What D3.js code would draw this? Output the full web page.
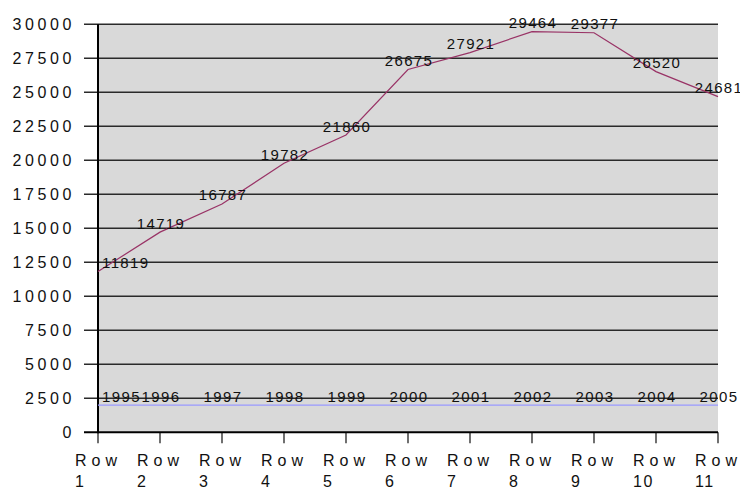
<!DOCTYPE html>
<html><head><meta charset="utf-8">
<script src="https://cdn.jsdelivr.net/npm/d3@7"></script>
<style>body{margin:0;background:#fff;} svg{display:block;font-family:"Liberation Sans",Arial,sans-serif;}</style>
</head><body>
<svg id="c" width="740" height="490"></svg>
<script>
const categories = ["Row 1","Row 2","Row 3","Row 4","Row 5","Row 6","Row 7","Row 8","Row 9","Row 10","Row 11"];
const seriesYears = [1995,1996,1997,1998,1999,2000,2001,2002,2003,2004,2005];
const seriesValues = [11819,14719,16787,19782,21860,26675,27921,29464,29377,26520,24681];
const yTicks = [0,2500,5000,7500,10000,12500,15000,17500,20000,22500,25000,27500,30000];

const svg = d3.select("#c");
const L = 98, R = 718, T = 24.3, B = 432.3;
const x = d3.scalePoint().domain(categories).range([L, R]);
const y = d3.scaleLinear().domain([0, 30000]).range([B, T]);

svg.append("rect").attr("x", L).attr("y", T).attr("width", R - L).attr("height", B - T).attr("fill", "#d9d9d9");

// gridlines + left ticks
svg.append("g").selectAll("line").data(yTicks.filter(d => d > 0)).join("line")
  .attr("x1", L - 14).attr("x2", R).attr("y1", d => y(d)).attr("y2", d => y(d))
  .attr("stroke", "#2a2a2a").attr("stroke-width", 1.4);

// y tick labels
svg.append("g").selectAll("text").data(yTicks).join("text")
  .attr("x", 75).attr("y", d => y(d) + 6)
  .attr("text-anchor", "end").attr("font-size", 16).attr("letter-spacing", 3.6)
  .attr("fill", "#111").text(d => d);

// bottom ticks
svg.append("g").selectAll("line").data(categories).join("line")
  .attr("x1", d => x(d)).attr("x2", d => x(d)).attr("y1", B).attr("y2", B + 11)
  .attr("stroke", "#222").attr("stroke-width", 1.3);

// axes
svg.append("line").attr("x1", L).attr("x2", L).attr("y1", T).attr("y2", B + 1)
  .attr("stroke", "#000").attr("stroke-width", 2);
svg.append("line").attr("x1", L - 14).attr("x2", R).attr("y1", B).attr("y2", B)
  .attr("stroke", "#000").attr("stroke-width", 2);

// category labels (wrapped)
const cl = svg.append("g").selectAll("text").data(categories).join("text")
  .attr("font-size", 16).attr("fill", "#111");
cl.append("tspan").attr("x", d => x(d) - 23).attr("y", 466).attr("letter-spacing", 5).text(d => d.split(" ")[0]);
cl.append("tspan").attr("x", d => x(d) - 23).attr("y", 487).attr("letter-spacing", 1.5).text(d => d.split(" ")[1]);

// lines
const line1 = d3.line().x((d, i) => x(categories[i])).y(d => y(d));
svg.append("path").attr("d", line1(seriesYears)).attr("fill", "none")
  .attr("stroke", "#9999ff").attr("stroke-width", 1.2);
svg.append("path").attr("d", line1(seriesValues)).attr("fill", "none")
  .attr("stroke", "#993366").attr("stroke-width", 1.2);

// data labels
function labels(data) {
  svg.append("g").selectAll("text").data(data).join("text")
    .attr("x", (d, i) => i === 0 ? x(categories[i]) + 4 : x(categories[i]) + 1)
    .attr("y", d => y(d) - 3.5)
    .attr("text-anchor", (d, i) => i === 0 ? "start" : "middle")
    .attr("font-size", 15).attr("letter-spacing", 1.4).attr("fill", "#111")
    .text(d => d);
}
labels(seriesYears);
labels(seriesValues);
</script>
</body></html>
